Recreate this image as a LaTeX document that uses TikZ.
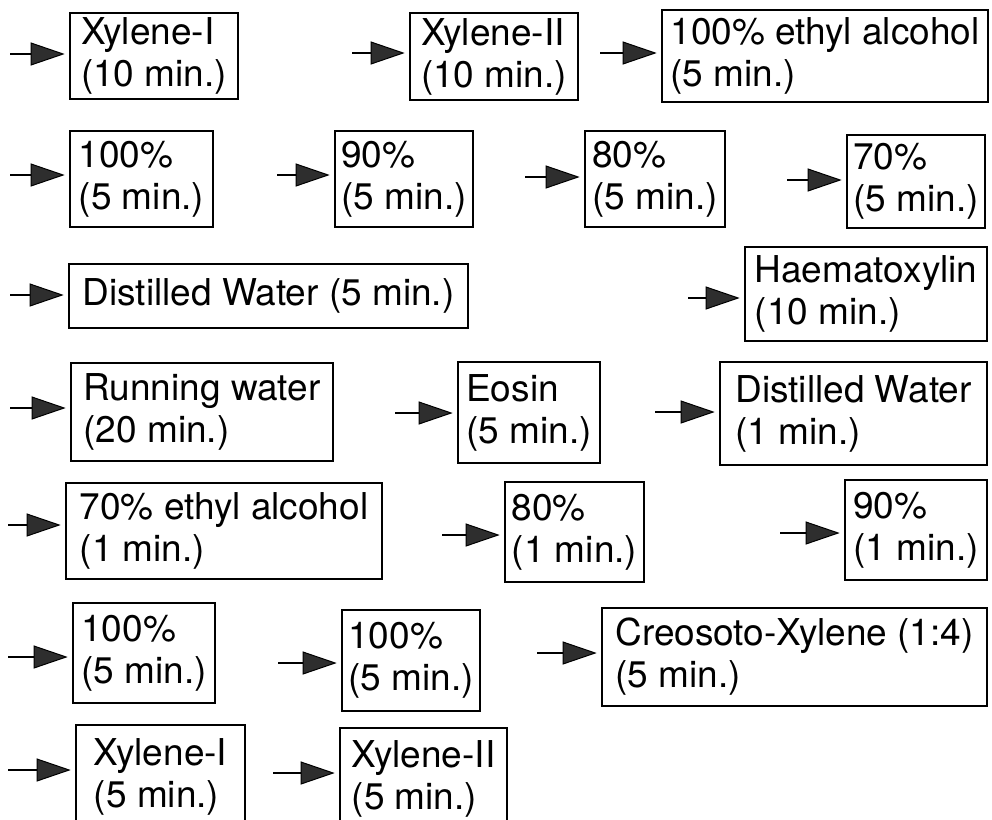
\documentclass[tikz,border=0pt]{standalone}
\usepackage{fontspec}
\setmainfont{TeX Gyre Heros}
\usetikzlibrary{arrows.meta}
\begin{document}
\begin{tikzpicture}[x=1pt,y=-1pt,
  stepbox/.style={draw, line width=2.6pt, align=left, inner sep=0pt,
    font=\fontsize{37}{42}\selectfont},
  arr/.style={line width=2.4pt, shorten >=4pt,
    -{Triangle[length=34pt,width=23pt,fill=black!82,line width=1pt]}}]
\useasboundingbox (0,0) rectangle (992,819);
\fill[white] (0,0) rectangle (992,819);
\clip (0,0) rectangle (992,819);
% row 1
\node[stepbox, minimum width=168, minimum height=86] (b1) at (154,56) {Xylene-I\\(10 min.)};
\node[stepbox, minimum width=168, minimum height=87] (b2) at (494,56.5) {Xylene-II\\(10 min.)};
\node[stepbox, minimum width=326, minimum height=92] (b3) at (825,56) {100\% ethyl alcohol\\(5 min.)};
% row 2
\node[stepbox, minimum width=143, minimum height=96] (b4) at (141.5,179) {100\%\\(5 min.)};
\node[stepbox, minimum width=138, minimum height=96] (b5) at (404,179) {90\%\\(5 min.)};
\node[stepbox, minimum width=140, minimum height=96] (b6) at (655,179) {80\%\\(5 min.)};
\node[stepbox, minimum width=138, minimum height=93] (b7) at (916,181.5) {70\%\\(5 min.)};
% row 3
\node[stepbox, minimum width=399, minimum height=64] (b8) at (268.5,296) {Distilled Water (5 min.)};
\node[stepbox, minimum width=242, minimum height=94] (b9) at (866,294) {Haematoxylin\\(10 min.)};
% row 4
\node[stepbox, minimum width=262, minimum height=98] (b10) at (202,412) {Running water\\(20 min.)};
\node[stepbox, minimum width=142, minimum height=101] (b11) at (529,412.5) {Eosin\\(5 min.)};
\node[stepbox, minimum width=267, minimum height=103] (b12) at (853.5,413.5) {Distilled Water\\(1 min.)};
% row 5
\node[stepbox, minimum width=316, minimum height=96] (b13) at (224,531) {70\% ethyl alcohol\\(1 min.)};
\node[stepbox, minimum width=139, minimum height=100] (b14) at (574.5,532) {80\%\\(1 min.)};
\node[stepbox, minimum width=142, minimum height=100] (b15) at (916,530) {90\%\\(1 min.)};
% row 6
\node[stepbox, minimum width=142, minimum height=100] (b16) at (144,653) {100\%\\(5 min.)};
\node[stepbox, minimum width=138, minimum height=101] (b17) at (411,660.5) {100\%\\(5 min.)};
\node[stepbox, minimum width=385, minimum height=98] (b18) at (794.5,657) {Creosoto-Xylene (1:4)\\(5 min.)};
% row 7
\node[stepbox, minimum width=169, minimum height=104] (b19) at (160.5,777) {Xylene-I\\(5 min.)};
\node[stepbox, minimum width=167, minimum height=102] (b20) at (423.5,779) {Xylene-II\\(5 min.)};
% arrow start points
\coordinate (s1) at (10,54);
\coordinate (s2) at (352,53);
\coordinate (s3) at (600,53);
\coordinate (s4) at (10,175);
\coordinate (s5) at (277,175);
\coordinate (s6) at (525,177);
\coordinate (s7) at (787,180);
\coordinate (s8) at (10,295);
\coordinate (s9) at (688,298);
\coordinate (s10) at (10,408);
\coordinate (s11) at (395,413);
\coordinate (s12) at (655,412);
\coordinate (s13) at (8,525);
\coordinate (s14) at (442,535);
\coordinate (s15) at (780,533);
\coordinate (s16) at (8,657);
\coordinate (s17) at (278,663);
\coordinate (s18) at (537,653);
\coordinate (s19) at (8,770);
\coordinate (s20) at (273,773);
\foreach \i in {1,...,20} {
  \draw[arr] (s\i) -- (s\i -| b\i.west);
}
\end{tikzpicture}
\end{document}
